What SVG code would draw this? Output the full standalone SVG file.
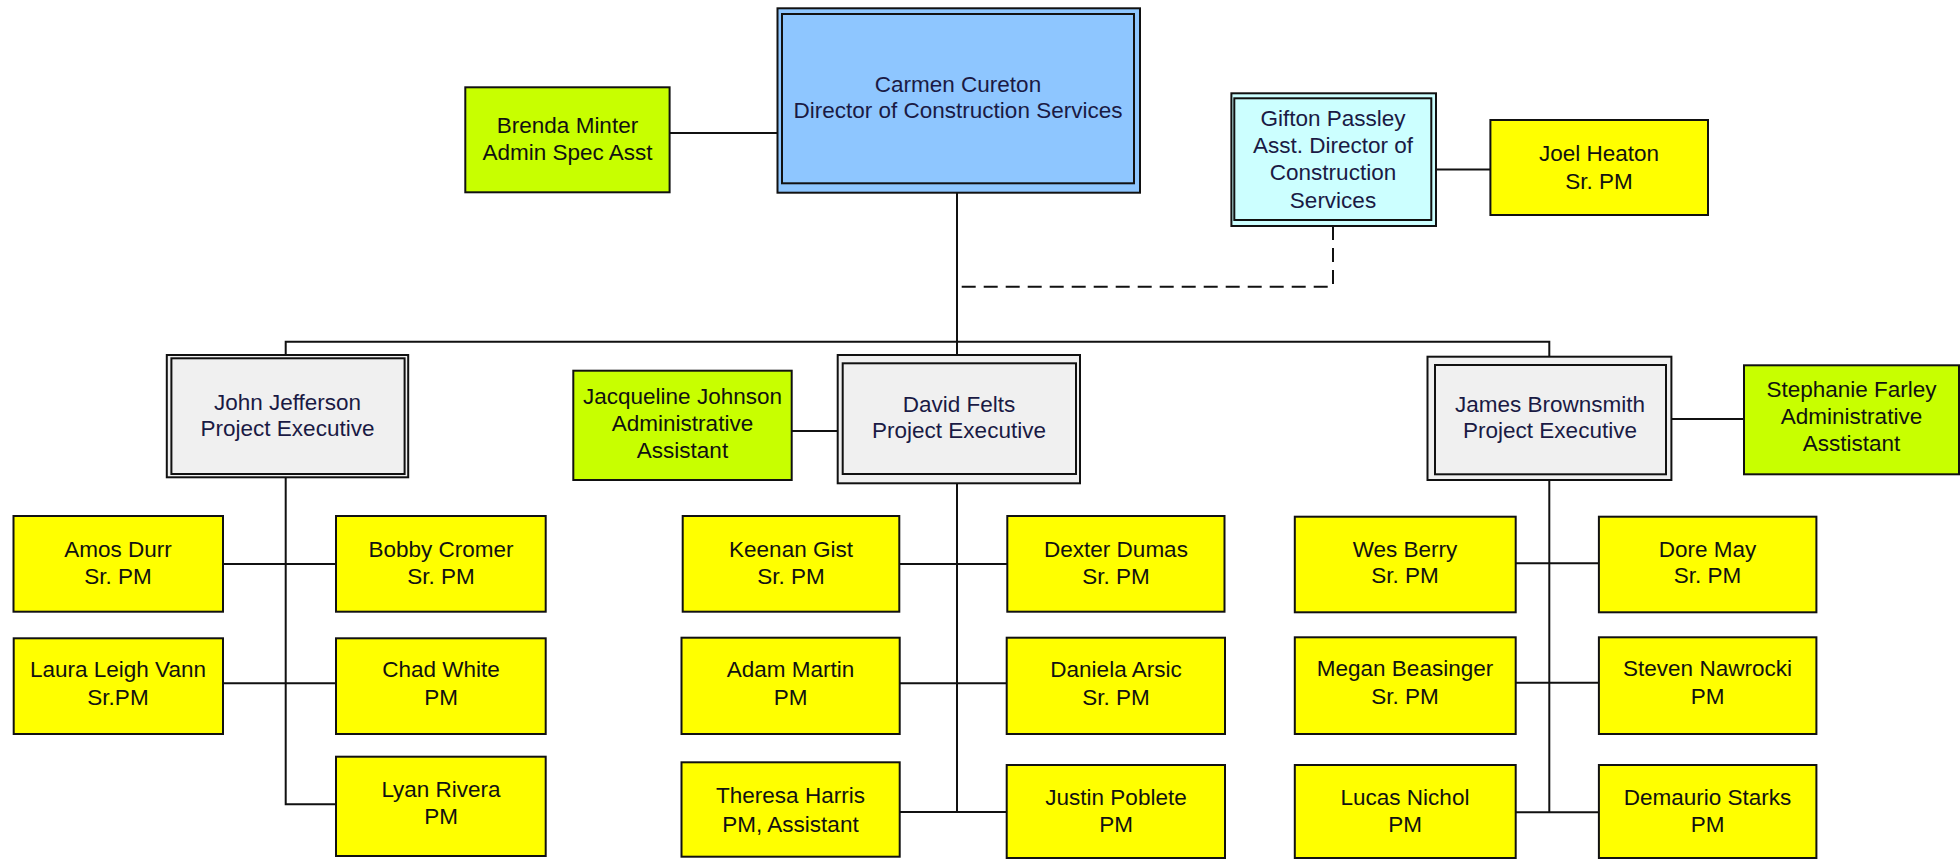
<svg xmlns="http://www.w3.org/2000/svg" width="1960" height="859" viewBox="0 0 1960 859">
<style>
  .bx{stroke:#111;stroke-width:2}
  .y{fill:#FFFF00}
  .l{fill:#C8FF00}
  .g{fill:#F0F0F0}
  .b{fill:#8EC6FF}
  .c{fill:#CCFFFF}
  .t{font-family:"Liberation Sans",Arial,sans-serif;font-size:22.5px;fill:#111;text-anchor:middle}
  .tb{fill:#1a1a44}
  .ln{stroke:#111;stroke-width:2;fill:none}
  .dash{stroke:#111;stroke-width:2;fill:none;stroke-dasharray:14 8}
</style>
<rect width="1960" height="859" fill="#fff"/>
<g id="connectors">
  <path class="ln" d="M669.6 133H777.5"/>
  <path class="ln" d="M957 192.7V341.7"/>
  <path class="dash" d="M1333 226V286.7H957"/>
  <path class="ln" d="M285.7 355V341.7H1549.3V356.7"/>
  <path class="ln" d="M957 341.7V355"/>
  <path class="ln" d="M1436 169.5H1490.4"/>
  <path class="ln" d="M791.7 431H837.7"/>
  <path class="ln" d="M1671.4 419H1744"/>
  <path class="ln" d="M285.7 477.3V804.3H336"/>
  <path class="ln" d="M223 564H336M223 683.3H336"/>
  <path class="ln" d="M957 483.3V812"/>
  <path class="ln" d="M899.3 564H1007.3M899.7 683.3H1006.7M899.7 812H1006.7"/>
  <path class="ln" d="M1549.3 480V812.3"/>
  <path class="ln" d="M1515.7 563.3H1598.9M1515.7 682.7H1598.9M1515.7 812.3H1598.9"/>
</g>
<g id="carmen">
  <rect class="bx b" x="777.5" y="8.3" width="362.5" height="184.4"/>
  <rect class="bx b" x="782" y="14" width="352" height="169.3"/>
  <text class="t tb" x="958" y="91.7">Carmen Cureton</text>
  <text class="t tb" x="958" y="117.5">Director of Construction Services</text>
</g>
<g id="brenda">
  <rect class="bx l" x="465.3" y="87.3" width="204.3" height="105"/>
  <text class="t" x="567.5" y="132.5">Brenda Minter</text>
  <text class="t" x="567.5" y="160">Admin Spec Asst</text>
</g>
<g id="gifton">
  <rect class="bx c" x="1231.4" y="93.3" width="204.6" height="132.7"/>
  <rect class="bx c" x="1234.3" y="98.3" width="197" height="121.7"/>
  <text class="t tb" x="1333" y="126">Gifton Passley</text>
  <text class="t tb" x="1333" y="153">Asst. Director of</text>
  <text class="t tb" x="1333" y="180">Construction</text>
  <text class="t tb" x="1333" y="207.5">Services</text>
</g>
<g id="joel">
  <rect class="bx y" x="1490.4" y="120" width="217.6" height="95"/>
  <text class="t" x="1599" y="161">Joel Heaton</text>
  <text class="t" x="1599" y="188.5">Sr. PM</text>
</g>
<g id="john">
  <rect class="bx g" x="166.8" y="355" width="241.4" height="122.3"/>
  <rect class="bx g" x="171.4" y="358.3" width="233.2" height="115.7"/>
  <text class="t tb" x="287.5" y="410">John Jefferson</text>
  <text class="t tb" x="287.5" y="436">Project Executive</text>
</g>
<g id="jacqueline">
  <rect class="bx l" x="573.3" y="370.7" width="218.4" height="109.3"/>
  <text class="t" x="682.5" y="404">Jacqueline Johnson</text>
  <text class="t" x="682.5" y="431">Administrative</text>
  <text class="t" x="682.5" y="458">Assistant</text>
</g>
<g id="david">
  <rect class="bx g" x="837.7" y="355" width="242.3" height="128.3"/>
  <rect class="bx g" x="842.7" y="363.3" width="233.3" height="110.7"/>
  <text class="t tb" x="959" y="411.7">David Felts</text>
  <text class="t tb" x="959" y="438.3">Project Executive</text>
</g>
<g id="james">
  <rect class="bx g" x="1427.5" y="356.7" width="243.9" height="123.3"/>
  <rect class="bx g" x="1435" y="365" width="231" height="109.3"/>
  <text class="t tb" x="1550" y="411.7">James Brownsmith</text>
  <text class="t tb" x="1550" y="438.3">Project Executive</text>
</g>
<g id="stephanie">
  <rect class="bx l" x="1744" y="365.3" width="215" height="109"/>
  <text class="t" x="1851.5" y="397">Stephanie Farley</text>
  <text class="t" x="1851.5" y="424">Administrative</text>
  <text class="t" x="1851.5" y="451">Asstistant</text>
</g>
<g id="amos">
  <rect class="bx y" x="13.5" y="516" width="209.5" height="95.7"/>
  <text class="t" x="118" y="557">Amos Durr</text>
  <text class="t" x="118" y="583.5">Sr. PM</text>
</g>
<g id="bobby">
  <rect class="bx y" x="336" y="516" width="209.7" height="95.7"/>
  <text class="t" x="441" y="557">Bobby Cromer</text>
  <text class="t" x="441" y="583.5">Sr. PM</text>
</g>
<g id="laura">
  <rect class="bx y" x="13.7" y="638.3" width="209.3" height="95.7"/>
  <text class="t" x="118" y="676.7">Laura Leigh Vann</text>
  <text class="t" x="118" y="705">Sr.PM</text>
</g>
<g id="chad">
  <rect class="bx y" x="336" y="638.3" width="209.7" height="95.7"/>
  <text class="t" x="441" y="676.7">Chad White</text>
  <text class="t" x="441" y="705">PM</text>
</g>
<g id="lyan">
  <rect class="bx y" x="336" y="756.7" width="209.7" height="99.3"/>
  <text class="t" x="441" y="796.7">Lyan Rivera</text>
  <text class="t" x="441" y="824">PM</text>
</g>
<g id="keenan">
  <rect class="bx y" x="682.7" y="516" width="216.6" height="95.7"/>
  <text class="t" x="791" y="557">Keenan Gist</text>
  <text class="t" x="791" y="583.5">Sr. PM</text>
</g>
<g id="dexter">
  <rect class="bx y" x="1007.3" y="516" width="217.2" height="95.7"/>
  <text class="t" x="1116" y="557">Dexter Dumas</text>
  <text class="t" x="1116" y="583.5">Sr. PM</text>
</g>
<g id="adam">
  <rect class="bx y" x="681.5" y="637.7" width="218.2" height="96.3"/>
  <text class="t" x="790.5" y="676.7">Adam Martin</text>
  <text class="t" x="790.5" y="705">PM</text>
</g>
<g id="daniela">
  <rect class="bx y" x="1006.7" y="637.7" width="218.3" height="96.3"/>
  <text class="t" x="1116" y="676.7">Daniela Arsic</text>
  <text class="t" x="1116" y="705">Sr. PM</text>
</g>
<g id="theresa">
  <rect class="bx y" x="681.5" y="762.3" width="218.2" height="94.4"/>
  <text class="t" x="790.5" y="803.3">Theresa Harris</text>
  <text class="t" x="790.5" y="831.7">PM, Assistant</text>
</g>
<g id="justin">
  <rect class="bx y" x="1006.7" y="765" width="218.3" height="93"/>
  <text class="t" x="1116" y="805">Justin Poblete</text>
  <text class="t" x="1116" y="831.7">PM</text>
</g>
<g id="wes">
  <rect class="bx y" x="1294.8" y="516.7" width="220.9" height="95.6"/>
  <text class="t" x="1405" y="556.7">Wes Berry</text>
  <text class="t" x="1405" y="583.3">Sr. PM</text>
</g>
<g id="dore">
  <rect class="bx y" x="1598.9" y="516.7" width="217.5" height="95.6"/>
  <text class="t" x="1707.5" y="556.7">Dore May</text>
  <text class="t" x="1707.5" y="583.3">Sr. PM</text>
</g>
<g id="megan">
  <rect class="bx y" x="1294.8" y="637.3" width="220.9" height="96.7"/>
  <text class="t" x="1405" y="676">Megan Beasinger</text>
  <text class="t" x="1405" y="704">Sr. PM</text>
</g>
<g id="steven">
  <rect class="bx y" x="1598.9" y="637.3" width="217.5" height="96.7"/>
  <text class="t" x="1707.5" y="676">Steven Nawrocki</text>
  <text class="t" x="1707.5" y="704">PM</text>
</g>
<g id="lucas">
  <rect class="bx y" x="1294.8" y="765" width="220.9" height="93"/>
  <text class="t" x="1405" y="805">Lucas Nichol</text>
  <text class="t" x="1405" y="831.7">PM</text>
</g>
<g id="demaurio">
  <rect class="bx y" x="1598.9" y="765" width="217.5" height="93"/>
  <text class="t" x="1707.5" y="805">Demaurio Starks</text>
  <text class="t" x="1707.5" y="831.7">PM</text>
</g>
</svg>
